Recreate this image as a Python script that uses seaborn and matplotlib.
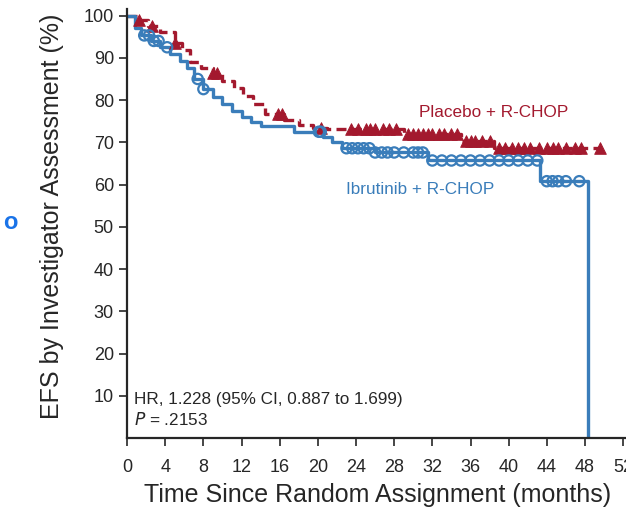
import numpy as np
import pandas as pd
import seaborn as sns
import matplotlib.pyplot as plt

sns.set_style("ticks")
plt.rcParams["font.family"] = ["Liberation Sans", "DejaVu Sans"]

IBR_COLOR = "#3a7dba"
PBO_COLOR = "#a3192e"

ibr_times = [0, 0.8, 1.5, 2.5, 3.5, 4.5, 5.5, 6.3, 7.0, 8.0, 9.0, 10.0, 11.0, 12.0,
             13.0, 14.0, 17.5, 20.5, 21.5, 22.5, 26.0, 31.5, 43.3, 48.3]
ibr_surv = [100, 97, 95.3, 94, 92.5, 90.8, 89.3, 87.5, 85, 82.6, 80.8, 79, 77.5, 76,
            74.8, 73.8, 72.5, 71.3, 70, 68.6, 67.6, 65.7, 60.8, 0]
ibr_censor = [1.8, 2.3, 2.8, 3.3, 4.2, 7.4, 8.0, 20.1, 20.3, 23.0, 23.6, 24.2, 24.8,
              25.4, 26.0, 26.7, 27.3, 28.0, 29.0, 30.0, 30.5, 31.0, 32.0, 33.0, 34.0,
              35.0, 36.0, 37.0, 38.0, 39.0, 40.0, 41.0, 42.0, 43.0, 44.0, 44.6, 45.2,
              46.0, 47.4]

pbo_times = [0, 1.0, 2.2, 3.5, 5.0, 5.8, 6.6, 7.8, 9.0, 10.0, 11.2, 12.2, 13.2, 14.5,
             16.5, 18.0, 19.5, 21.0, 29.0, 35.0, 38.5, 49.6]
pbo_surv = [100, 99, 97.6, 96, 93.5, 91.8, 89, 87.7, 86.5, 84.6, 82.8, 81, 79, 76.8,
            75.2, 74.2, 73.5, 73.2, 72, 70.2, 68.6, 68.6]
pbo_censor = [1.3, 2.6, 5.0, 9.0, 9.4, 15.8, 16.2, 20.3, 23.5, 24.2, 25.0, 25.5, 26.0,
              26.8, 27.5, 28.2, 29.5, 30.0, 30.5, 31.0, 31.5, 32.0, 32.7, 33.2, 34.0,
              34.6, 35.5, 36.0, 36.5, 37.2, 38.0, 39.0, 39.6, 40.3, 41.0, 41.6, 42.2,
              43.2, 44.0, 44.6, 45.2, 46.0, 47.0, 47.6, 49.6]

x_ticks = list(range(0, 53, 4))
y_ticks = list(range(10, 101, 10))


def censor_points(times, surv, censor):
    idx = np.searchsorted(times, censor, side="right") - 1
    return pd.DataFrame({"t": censor, "s": np.array(surv)[idx]})


fig = plt.figure(figsize=(6.26, 5.13), dpi=100)
ax = fig.add_axes([0.203, 0.146, 0.797, 0.836])

sns.lineplot(x=pbo_times, y=pbo_surv, drawstyle="steps-post", color=PBO_COLOR,
             linewidth=2.4, linestyle=(0, (3, 1.6)), ax=ax)
sns.lineplot(x=ibr_times, y=ibr_surv, drawstyle="steps-post", color=IBR_COLOR,
             linewidth=2.4, ax=ax)

pbo_c = censor_points(pbo_times, pbo_surv, pbo_censor)
ibr_c = censor_points(ibr_times, ibr_surv, ibr_censor)
sns.scatterplot(data=pbo_c, x="t", y="s", marker="^", s=70, color=PBO_COLOR,
                edgecolor=PBO_COLOR, ax=ax, zorder=3)
sns.scatterplot(data=ibr_c, x="t", y="s", marker="o", s=55, facecolor="none",
                edgecolor=IBR_COLOR, linewidth=1.6, ax=ax, zorder=4)

ax.set_xlim(0, 52.3)
ax.set_ylim(0, 101.5)
ax.set_xticks(x_ticks)
ax.set_yticks(y_ticks)
ax.tick_params(labelsize=13, length=6, width=1.2, direction="out")
ax.tick_params(axis="x", pad=9)
sns.despine(ax=ax)
for side in ("left", "bottom"):
    ax.spines[side].set_linewidth(1.6)

ax.set_xlabel("Time Since Random Assignment (months)", fontsize=18, va="center")
ax.set_ylabel("EFS by Investigator Assessment (%)", fontsize=18, va="center")
ax.xaxis.set_label_coords(0.503, -0.133)
ax.yaxis.set_label_coords(-0.150, 0.516)

ax.text(30.6, 77.0, "Placebo + R-CHOP", color=PBO_COLOR, fontsize=12.3, va="center")
ax.text(22.9, 58.8, "Ibrutinib + R-CHOP", color=IBR_COLOR, fontsize=12.3, va="center")
ax.text(0.7, 9.2, "HR, 1.228 (95% CI, 0.887 to 1.699)", fontsize=12.3, va="center")
ax.text(0.7, 4.5, "$\\it{P}$ = .2153", fontsize=12.3, va="center")

fig.text(0.016, 0.567, "o", color="#1a73e8", fontsize=17, fontweight="bold",
         va="center", ha="center")

fig.savefig("out.png", dpi=100)
